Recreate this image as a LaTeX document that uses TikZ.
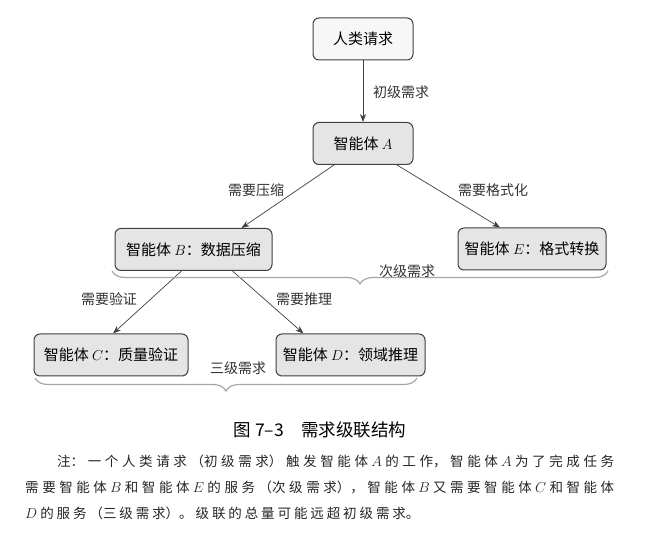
\documentclass[tikz,border=0pt]{standalone}
\usepackage{fontspec}
\usetikzlibrary{decorations.pathreplacing,arrows.meta}
\newfontfamily\song{Noto Sans CJK SC}
\newfontfamily\hei{Noto Sans CJK SC}
\newfontfamily\kai{Noto Sans CJK SC}
\begin{document}
\begin{tikzpicture}[x=1pt,y=-1pt,
  box/.style={draw=black!75, line width=1pt, rounded corners=6pt, fill=black!10,
    font=\fontsize{15}{18}\selectfont\song, inner sep=0pt, minimum height=42pt},
  lbl/.style={font=\fontsize{14}{16}\selectfont\song, text=black!80, inner sep=0pt},
  arr/.style={draw=black!75, line width=0.7pt, -{Stealth[length=8pt,width=6pt]}},
  brc/.style={draw=black!35, line width=1.2pt, decorate,
    decoration={brace, mirror, amplitude=13pt}}]
\useasboundingbox (0,0) rectangle (654,534);
\fill[white] (0,0) rectangle (654,534);
% nodes
\node[box, fill=black!3, minimum width=100pt] (h) at (363,39) {人类请求};
\node[box, minimum width=100pt] (a) at (363,143.5) {智能体 $A$};
\node[box, minimum width=157pt] (b) at (193.5,249.5) {智能体 $B$：数据压缩};
\node[box, minimum width=148pt] (e) at (532,249) {智能体 $E$：格式转换};
\node[box, minimum width=154pt] (c) at (111,355) {智能体 $C$：质量验证};
\node[box, minimum width=149pt] (d) at (350.5,355) {智能体 $D$：领域推理};
% connectors
\draw[arr] (h) -- (a);
\draw[arr] ([xshift=-29pt]a.south) -- ([xshift=48pt]b.north);
\draw[arr] ([xshift=34pt]a.south) -- ([xshift=-32pt]e.north);
\draw[arr] ([xshift=-12pt]b.south) -- ([xshift=2pt]c.north);
\draw[arr] ([xshift=39pt]b.south) -- ([xshift=-47pt]d.north);
% labels
\node[lbl] (l1) at (401,92) {初级需求};
\node[lbl] (l2) at (256,190) {需要压缩};
\node[lbl] (l3) at (493,190) {需要格式化};
\node[lbl] (l4) at (109,299) {需要验证};
\node[lbl] (l5) at (304,299) {需要推理};
% braces
\coordinate (b1s) at (112,271);
\coordinate (b1e) at (608,271);
\draw[brc] (b1s) -- (b1e);
\node[lbl] (t1) at (407,271) {次级需求};
\coordinate (b2s) at (35,378);
\coordinate (b2e) at (417,378);
\draw[brc] (b2s) -- (b2e);
\node[lbl] (t2) at (238,368) {三级需求};
% caption
\node[font=\fontsize{17.5}{20}\selectfont\hei, inner sep=0pt] (cap) at (320,430) {图 7–3\quad 需求级联结构};
\node[anchor=north west, inner sep=0pt, text width=589pt, align=justify,
  font=\fontsize{13.5}{26}\selectfont\kai, text=black!85] (note) at (25,455)
  {\XeTeXlinebreaklocale "zh"\XeTeXlinebreakskip=2.9pt plus 4pt minus 1pt\relax
   \hspace*{32pt}注：一个人类请求（初级需求）触发智能体 $A$ 的工作，智能体 $A$ 为了完成任务\linebreak
   需要智能体 $B$ 和智能体 $E$ 的服务（次级需求），智能体 $B$ 又需要智能体 $C$ 和智能体\linebreak
   $D$ 的服务（三级需求）。级联的总量可能远超初级需求。};
\end{tikzpicture}
\end{document}
